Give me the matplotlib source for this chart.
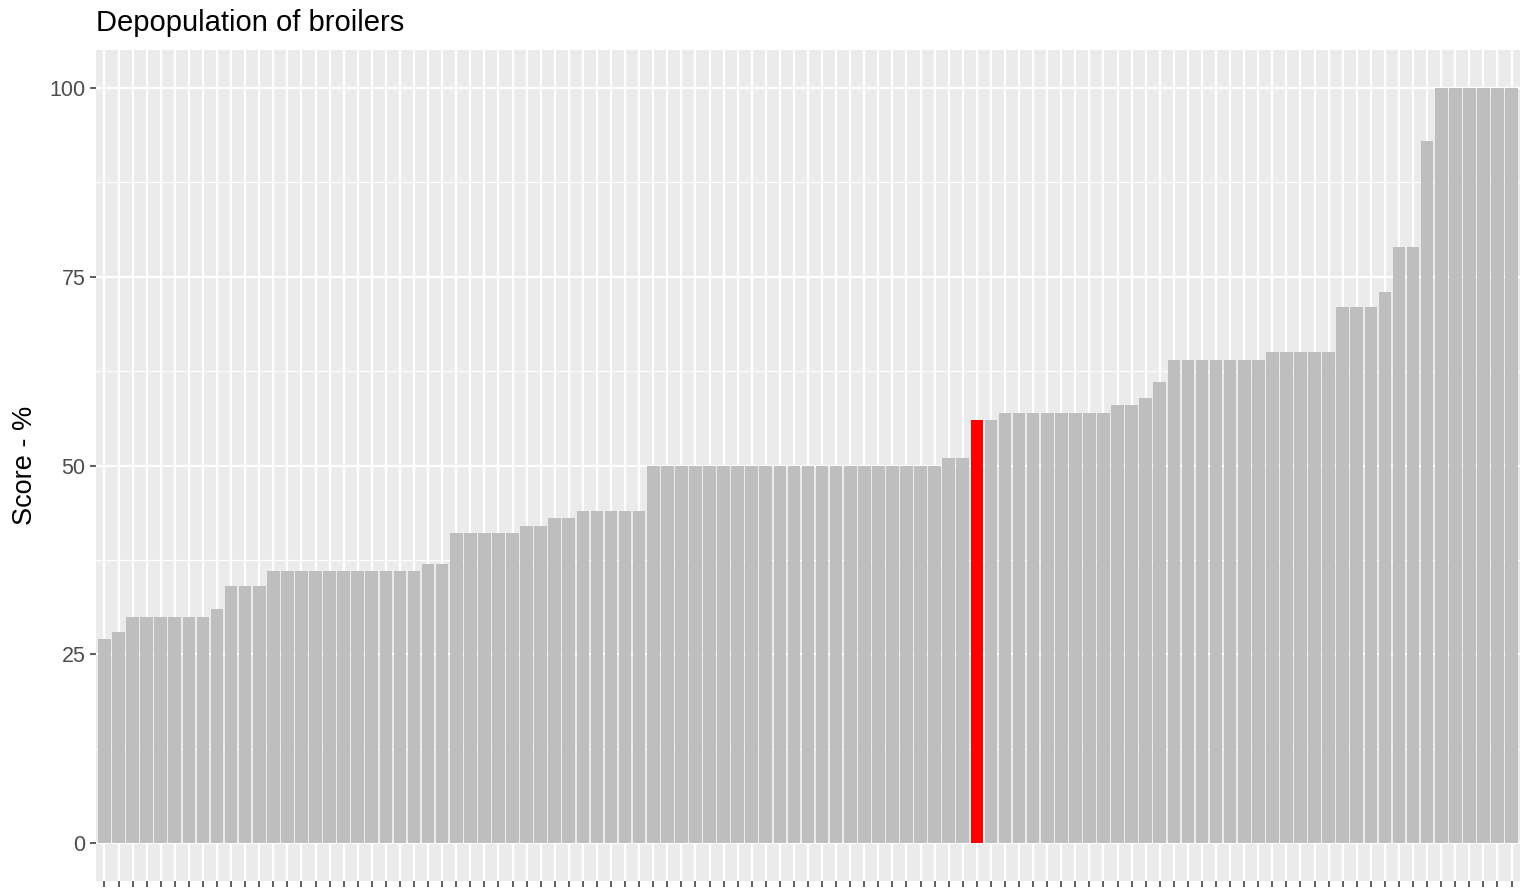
import numpy as np
import matplotlib
matplotlib.use("Agg")
import matplotlib.pyplot as plt
from matplotlib.ticker import MultipleLocator

plt.rcParams['font.family'] = ['Liberation Sans', 'DejaVu Sans']

# scores, sorted ascending (one bar per entry)
scores = [27, 28, 30, 30, 30, 30, 30, 30, 31, 34, 34, 34,
          36, 36, 36, 36, 36, 36, 36, 36, 36, 36, 36, 37, 37,
          41, 41, 41, 41, 41, 42, 42, 43, 43, 44, 44, 44, 44, 44,
          50, 50, 50, 50, 50, 50, 50, 50, 50, 50, 50, 50, 50, 50, 50,
          50, 50, 50, 50, 50, 50, 51, 51, 56, 56,
          57, 57, 57, 57, 57, 57, 57, 57, 58, 58, 59, 61,
          64, 64, 64, 64, 64, 64, 64, 65, 65, 65, 65, 65,
          71, 71, 71, 73, 79, 79, 93, 100, 100, 100, 100, 100, 100]
highlight = 62  # index of the red bar
y_ticks = [0, 25, 50, 75, 100]

x = np.arange(len(scores))
colors = ['#FF0000' if i == highlight else '#BEBEBE' for i in x]

fig = plt.figure(figsize=(15.28, 8.9), dpi=100)
ax = fig.add_axes([96 / 1528, 1 - 880.75 / 890, 1424 / 1528, (880.75 - 50.25) / 890])
ax.set_facecolor('#EBEBEB')
ax.set_axisbelow(True)

ax.bar(x, scores, width=0.9, color=colors, zorder=3)

ax.set_xlim(-0.6, len(scores) - 0.4)
ax.set_ylim(-5, 105)
ax.set_xticks(x)
ax.set_xticklabels([''] * len(x))
ax.set_yticks(y_ticks)
ax.yaxis.set_minor_locator(MultipleLocator(12.5))

ax.grid(which='major', color='white', linewidth=1.6)
ax.grid(which='minor', axis='y', color='white', linewidth=0.8)
ax.tick_params(which='major', length=4.5, width=1.1, color='#333333',
               labelsize=15.5, labelcolor='#4D4D4D', pad=3)
ax.tick_params(which='minor', length=0)
for s in ax.spines.values():
    s.set_visible(False)

ax.set_title('Depopulation of broilers', loc='left', fontsize=21, pad=14)
ax.set_ylabel('Score - %', fontsize=19.5)
ax.yaxis.set_label_coords(-0.041, 0.5)

plt.savefig('out.png', dpi=100)
